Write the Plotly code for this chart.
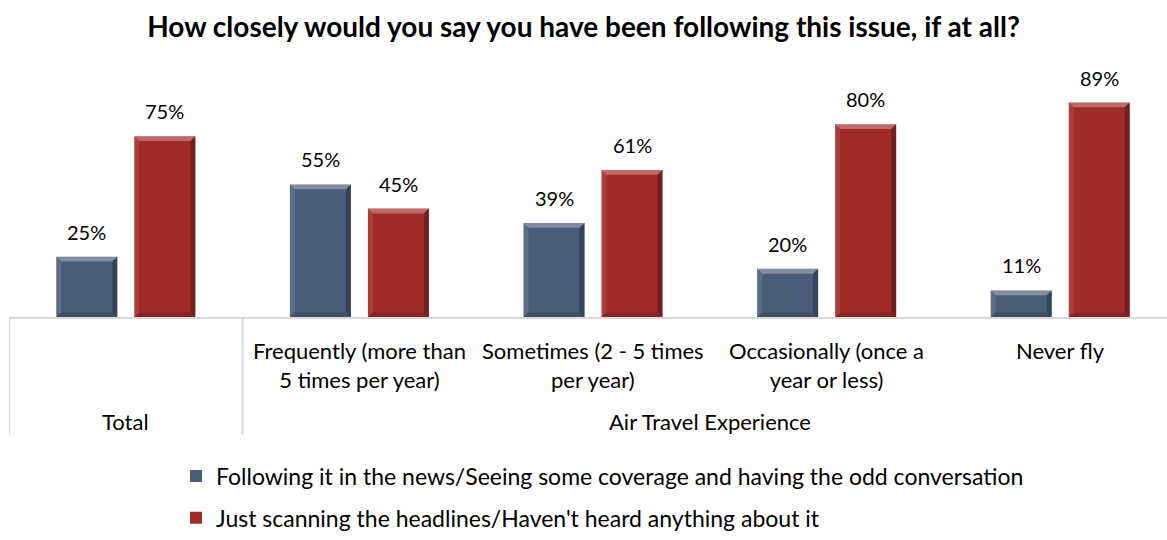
import plotly.graph_objects as go

# Survey results: how closely respondents follow the issue, by air travel frequency
categories = [
    "Total",
    "Frequently (more than<br>5 times per year)",
    "Sometimes (2 - 5 times<br>per year)",
    "Occasionally (once a<br>year or less)",
    "Never fly",
]
group_labels = ["Total", "Air Travel Experience"]
series_names = [
    "Following it in the news/Seeing some coverage and having the odd conversation",
    "Just scanning the headlines/Haven't heard anything about it",
]
following = [25, 55, 39, 20, 11]
scanning = [75, 45, 61, 80, 89]

series_values = [following, scanning]
colors = ["#4A5D78", "#A02B28"]

FONT = "Lato"
W, H = 1167, 540
M_L, M_R, M_T, M_B = 9, 0, 76, 215
plot_w = W - M_L - M_R
plot_h = H - M_T - M_B
X_RANGE = [-0.5, 4.457]
Y_RANGE = [0, 100]
BARGAP, GROUPGAP = 0.332, 0.218

x_idx = list(range(len(categories)))

fig = go.Figure()
for k, (name, vals, col) in enumerate(zip(series_names, series_values, colors)):
    fig.add_trace(go.Bar(
        x=x_idx, y=vals, name=name, legendgroup=f"s{k}",
        marker=dict(color=col, line=dict(width=0)),
        hoverinfo="skip",
    ))

def py(px):
    """pixel row of the figure -> paper y"""
    return (H - M_B - px) / plot_h

# geometry of grouped bars in x-axis units
slot = (1 - BARGAP) / 2
bar_w = slot * (1 - GROUPGAP)
centers = [-slot / 2, slot / 2]

# bevelled edges drawn over each bar
px_x = (X_RANGE[1] - X_RANGE[0]) / plot_w
px_y = (Y_RANGE[1] - Y_RANGE[0]) / plot_h
bx, by = 5 * px_x, 5 * px_y
shapes = []
for k, vals in enumerate(series_values):
    for i, v in enumerate(vals):
        xl = i + centers[k] - bar_w / 2
        xr = i + centers[k] + bar_w / 2
        t, b = v, 0
        edges = [
            ([(xl, t), (xr, t), (xr - bx, t - by), (xl + bx, t - by)], "rgba(255,255,255,0.30)"),
            ([(xr, t), (xr, b), (xr - bx, b + by), (xr - bx, t - by)], "rgba(0,0,0,0.28)"),
            ([(xl, b), (xr, b), (xr - bx, b + by), (xl + bx, b + by)], "rgba(0,0,0,0.16)"),
            ([(xl, t), (xl, b), (xl + bx, b + by), (xl + bx, t - by)], "rgba(255,255,255,0.10)"),
        ]
        for pts, fill in edges:
            path = "M " + " L ".join(f"{x:.5f},{y:.4f}" for x, y in pts) + " Z"
            shapes.append(dict(type="path", xref="x", yref="y", path=path,
                               fillcolor=fill, line=dict(width=0), layer="above"))

# value labels above each bar
annotations = []
for k, vals in enumerate(series_values):
    for i, v in enumerate(vals):
        annotations.append(dict(
            x=i + centers[k], y=v, xref="x", yref="y", text=f"{v}%",
            showarrow=False, yanchor="middle", yshift=25,
            font=dict(family=FONT, size=20, color="#000000"),
        ))

# category labels under the axis
for i, c in enumerate(categories[1:], start=1):
    annotations.append(dict(
        x=i, y=py(344), xref="x", yref="paper", text=c, showarrow=False,
        yanchor="top", font=dict(family=FONT, size=22, color="#000000"),
    ))

# group labels row
for xg, g in zip((0, 2.5), group_labels):
    annotations.append(dict(x=xg, y=py(433), xref="x", yref="paper", text=g,
                            showarrow=False, yanchor="middle",
                            font=dict(family=FONT, size=22, color="#000000")))

# table dividers below the axis
for xv in (-0.5, 0.5):
    shapes.append(dict(type="line", xref="x", yref="paper", x0=xv, x1=xv,
                       y0=0, y1=py(447), line=dict(color="#D9D9D9", width=2)))

fig.update_layout(
    width=W, height=H,
    margin=dict(l=M_L, r=M_R, t=M_T, b=M_B),
    paper_bgcolor="white", plot_bgcolor="white",
    barmode="group", bargap=BARGAP, bargroupgap=GROUPGAP,
    title=dict(
        text="<b>How closely would you say you have been following this issue, if at all?</b>",
        x=0.5, xref="container", xanchor="center", y=1 - 27 / H, yanchor="middle",
        font=dict(family=FONT, size=28, color="#000000"),
    ),
    xaxis=dict(range=X_RANGE, showticklabels=False, ticks="", showgrid=False,
               zeroline=False, showline=True, linecolor="#D9D9D9", linewidth=2,
               fixedrange=True),
    yaxis=dict(range=Y_RANGE, visible=False, showgrid=False, fixedrange=True),
    legend=dict(orientation="v", x=(176 - M_L) / plot_w, xanchor="left",
                y=py(467), yanchor="top", traceorder="grouped", tracegroupgap=9,
                font=dict(family=FONT, size=23, color="#000000"),
                itemwidth=30, bgcolor="rgba(0,0,0,0)"),
    annotations=annotations,
    shapes=shapes,
    showlegend=True,
)

fig.write_html("out.html")
